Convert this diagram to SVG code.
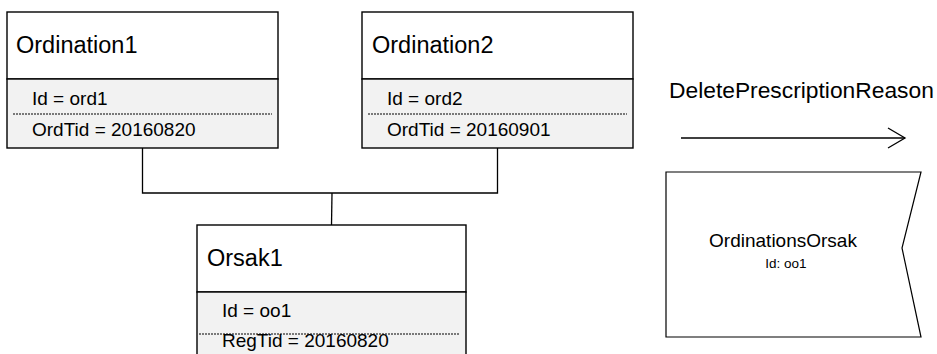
<svg xmlns="http://www.w3.org/2000/svg" width="937" height="354" viewBox="0 0 937 354">
  <style>
    text { font-family: "Liberation Sans", Arial, sans-serif; fill: #000; }
    .title { font-size: 23.5px; }
    .attr { font-size: 19px; }
    .head { fill: #fff; stroke: #000; stroke-width: 1.4; }
    .body { fill: #f2f2f2; stroke: #000; stroke-width: 1.4; }
    .sep { stroke: #000; stroke-width: 1.2; stroke-dasharray: 2 1; fill: none; }
    .conn { stroke: #000; stroke-width: 1.3; fill: none; }
  </style>

  <!-- connectors between the class boxes -->
  <g id="connectors">
    <polyline class="conn" points="142.5,148 142.5,193 497.5,193 497.5,148"/>
    <line class="conn" x1="332" y1="193" x2="331.5" y2="225"/>
  </g>

  <g id="ordination1">
    <rect class="head" x="7" y="12" width="271" height="67"/>
    <rect class="body" x="7" y="79" width="271" height="69"/>
    <text class="title" x="16" y="53">Ordination1</text>
    <text class="attr" x="32" y="105">Id = ord1</text>
    <line class="sep" x1="13" y1="114" x2="272" y2="114"/>
    <text class="attr" x="32" y="136">OrdTid = 20160820</text>
  </g>

  <g id="ordination2">
    <rect class="head" x="362" y="12" width="271" height="67"/>
    <rect class="body" x="362" y="79" width="271" height="69"/>
    <text class="title" x="372" y="53">Ordination2</text>
    <text class="attr" x="387" y="105">Id = ord2</text>
    <line class="sep" x1="368" y1="114" x2="627" y2="114"/>
    <text class="attr" x="387" y="136">OrdTid = 20160901</text>
  </g>

  <g id="orsak1">
    <rect class="head" x="197" y="225" width="269" height="67"/>
    <rect class="body" x="197" y="292" width="269" height="70"/>
    <text class="title" x="207" y="266">Orsak1</text>
    <text class="attr" x="222" y="317">Id = oo1</text>
    <line class="sep" x1="199" y1="334" x2="459" y2="334"/>
    <text class="attr" x="222" y="347">RegTid = 20160820</text>
  </g>

  <g id="delete-reason">
    <text class="title" x="669" y="98" style="font-size:22.8px">DeletePrescriptionReason</text>
    <line class="conn" x1="681" y1="138" x2="905" y2="138"/>
    <polyline class="conn" points="888,128 905,138 888,148"/>
  </g>

  <g id="ordinations-orsak">
    <polygon points="666,172 921,172 902,248 921,337 666,337" fill="#fff" stroke="#000" stroke-width="1.2"/>
    <text x="783" y="247" text-anchor="middle" style="font-size:19px">OrdinationsOrsak</text>
    <text x="786" y="268" text-anchor="middle" style="font-size:13.5px">Id: oo1</text>
  </g>
</svg>
